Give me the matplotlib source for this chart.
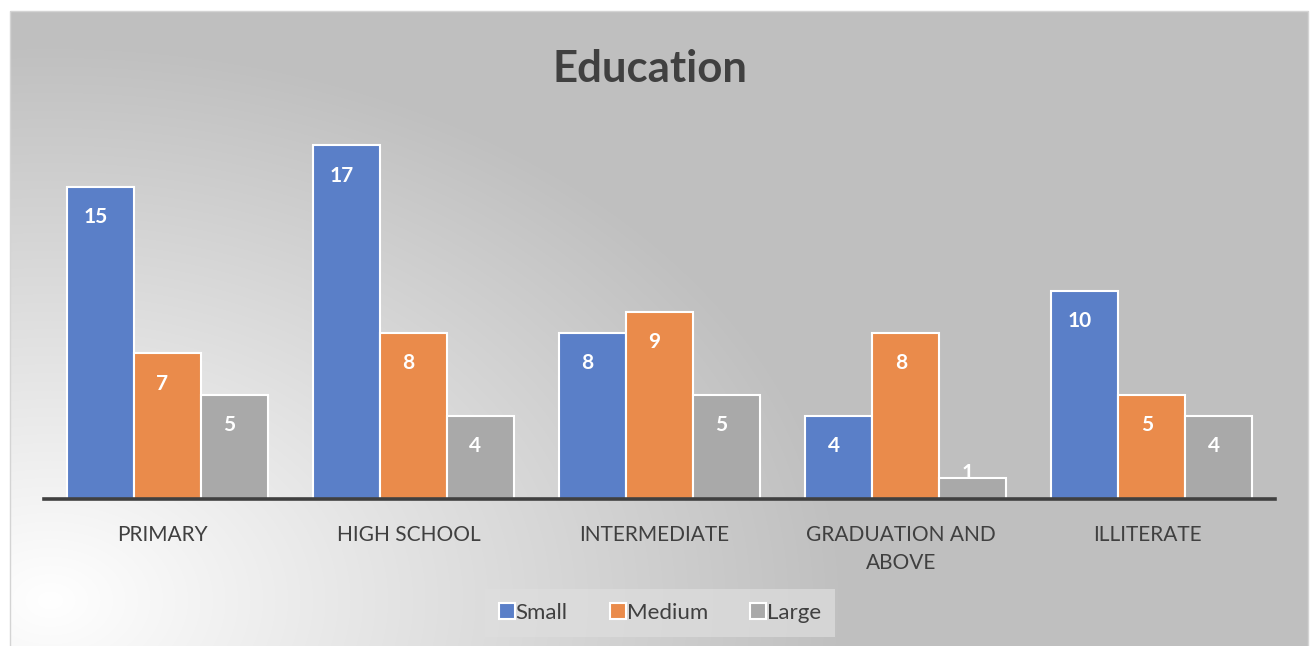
import numpy as np
import matplotlib.pyplot as plt
from matplotlib.patches import Rectangle

categories = ["PRIMARY", "HIGH SCHOOL", "INTERMEDIATE", "GRADUATION AND\nABOVE", "ILLITERATE"]
series_names = ["Small", "Medium", "Large"]
small = [15, 17, 8, 4, 10]
medium = [7, 8, 9, 8, 5]
large = [5, 4, 5, 1, 4]
colors = ["#5a7fc8", "#ea8b4b", "#a9a9a9"]

plt.rcParams['font.family'] = ['Lato', 'DejaVu Sans']

W, H = 1314, 646
fig = plt.figure(figsize=(W / 100, H / 100), dpi=100)
fig.patch.set_facecolor("white")

# background: grey panel with a light elliptical glow from the lower left
bg = fig.add_axes([0, 0, 1, 1], zorder=0)
yy, xx = np.mgrid[0:H, 0:W]
r = np.sqrt(((xx - 50) / 800.0) ** 2 + ((yy - 600) / 560.0) ** 2)
frac = np.clip(r, 0, 1)
grey = (255 - frac * (255 - 191)) / 255.0
img = np.dstack([grey, grey, grey])
img[:11, :] = 1.0
img[:, :10] = 1.0
img[:, 1309:] = 1.0
bg.imshow(img, extent=[0, W, H, 0], aspect="auto", interpolation="bilinear")
bg.add_patch(Rectangle((10, 11), 1298, 640, fill=False, edgecolor="#d4d4d4", lw=1))
bg.set_xlim(0, W)
bg.set_ylim(H, 0)
bg.axis("off")

ax = fig.add_axes([44 / W, 1 - 499 / H, (1275 - 44) / W, 416 / H], zorder=1)
ax.patch.set_alpha(0)

x = np.arange(len(categories))
w = 0.272
for i, (vals, name) in enumerate(zip([small, medium, large], series_names)):
    pos = x + (i - 1) * w
    ax.bar(pos, vals, w, color=colors[i], edgecolor="white", linewidth=1.5, label=name, zorder=2)
    for px, v in zip(pos, vals):
        ly = v - 1.45 if v >= 3 else v + 0.25
        ax.text(px - 0.02, ly, str(v), ha="center", va="center", color="white",
                fontsize=15, fontweight="bold", zorder=3)

ax.set_xlim(-0.5, len(categories) - 0.5)
ax.set_ylim(0, 20)
ax.set_yticks([])
ax.set_xticks(x - 0.02)
ax.set_xticklabels(categories, fontsize=15, color="#404040", linespacing=1.5)
ax.tick_params(axis="x", length=0, pad=19)
for s in ["top", "left", "right"]:
    ax.spines[s].set_visible(False)
ax.spines["bottom"].set_color("#404040")
ax.spines["bottom"].set_linewidth(2.6)
ax.spines["bottom"].set_zorder(4)

fig.text(650 / W, 1 - 69 / H, "Education", ha="center", va="center",
         fontsize=31.5, fontweight="bold", color="#404040")

leg = ax.legend(loc="center", bbox_to_anchor=(660 / W, 1 - 613 / H),
                bbox_transform=fig.transFigure, ncol=3, frameon=True,
                fancybox=False, fontsize=16, handlelength=0.7, handleheight=0.7,
                handletextpad=0.05, columnspacing=1.9, borderpad=0.65,
                labelcolor="#404040")
leg.get_frame().set_facecolor("#dedede")
leg.get_frame().set_alpha(0.7)
leg.get_frame().set_edgecolor("none")

fig.savefig("out.png", dpi=100)
